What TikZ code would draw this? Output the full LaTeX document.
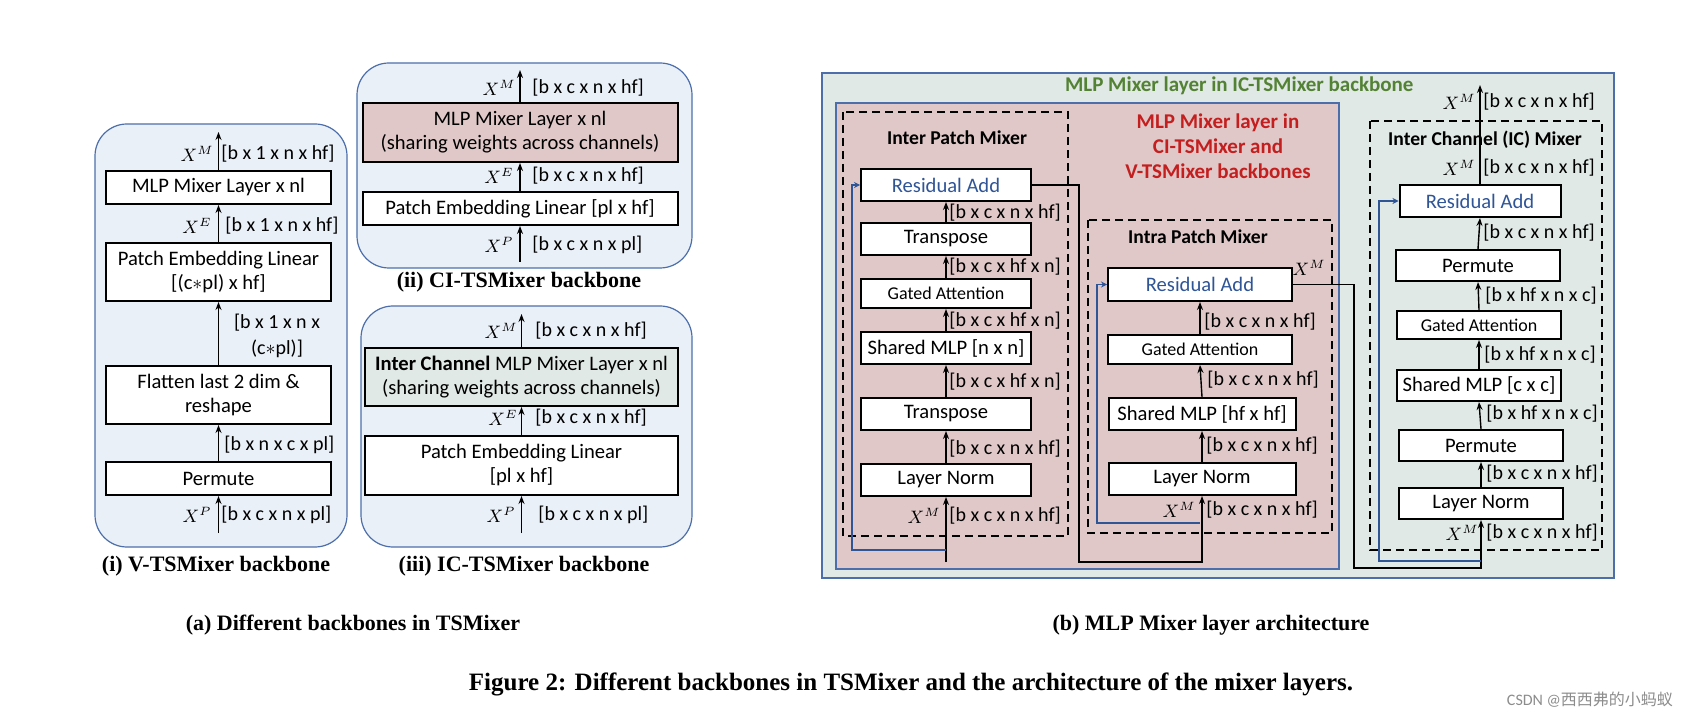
\documentclass[tikz,border=0pt]{standalone}
\usepackage{fontspec}
\setmainfont{Carlito}
\newfontfamily\capfont{Liberation Serif}
\newfontfamily\cjk{Noto Sans CJK SC}
\usetikzlibrary{arrows.meta}
\definecolor{panelblue}{RGB}{234,240,248}
\definecolor{edgeblue}{RGB}{76,110,170}
\definecolor{mixpink}{RGB}{224,200,200}
\definecolor{mixgreen}{RGB}{224,233,229}
\definecolor{resblue}{RGB}{47,85,151}
\definecolor{titlered}{RGB}{196,30,30}
\definecolor{titlegreen}{RGB}{84,130,53}
\tikzset{
  box/.style={draw, line width=1pt, fill=white, inner sep=0pt, align=center, font=\fontsize{10.3}{12}\selectfont},
  sbox/.style={box, font=\fontsize{9}{10.5}\selectfont},
  dim/.style={anchor=west, inner sep=0pt, font=\fontsize{10}{11.5}\selectfont},
  var/.style={anchor=east, inner sep=0pt, font=\fontsize{9}{11}\selectfont},
  flow/.style={-{Stealth[length=4pt,width=3pt]}, line width=0.7pt},
  skip/.style={-{Stealth[length=3pt,width=3pt]}, line width=0.8pt, draw=resblue},
  panel/.style={draw=edgeblue, line width=0.6pt, fill=panelblue, rounded corners=16pt},
  zone/.style={draw, line width=0.9pt, dash pattern=on 4pt off 2.5pt},
  head/.style={font=\bfseries\fontsize{9.8}{11.5}\selectfont},
  subcap/.style={font=\capfont\bfseries\fontsize{11}{13}\selectfont}
}
\begin{document}
\begin{tikzpicture}[x=0.5pt,y=-0.5pt]
\useasboundingbox (0,0) rectangle (1686,721);

%Shape: panels of (a)
\draw[panel] (95,124) rectangle (347,547);
\draw[panel] (357,63) rectangle (692,268);
\draw[panel] (361,306) rectangle (692,547);

%(i) V-TSMixer backbone
\node[box, minimum width=112.5pt, minimum height=16.5pt] (vMix) at (218.5,187.5) {MLP Mixer Layer x nl};
\node[box, minimum width=112.5pt, minimum height=29pt] (vEmb) at (218.5,272) {Patch Embedding Linear\\{}[(c$*$pl) x hf]};
\node[box, minimum width=112.5pt, minimum height=29pt] (vFlat) at (218.5,395) {Flatten last 2 dim \&\\reshape};
\node[box, minimum width=112.5pt, minimum height=16.5pt] (vPerm) at (218.5,478.5) {Permute};
\coordinate (vIn) at (218.5,533);
\coordinate (vOut) at (218.5,132);
\draw[flow] (vIn) -- (vPerm.south);
\draw[flow] (vPerm.north) -- (vFlat.south);
\draw[flow] (vFlat.north) -- (vEmb.south);
\draw[flow] (vEmb.north) -- (vMix.south);
\draw[flow] (vMix.north) -- (vOut);
\node[var] at (214,154) {$X^M$};
\node[dim] at (221,154) {[b x 1 x n x hf]};
\node[var] at (212,226) {$X^E$};
\node[dim] at (225,226) {[b x 1 x n x hf]};
\node[dim, anchor=center, align=center, font=\fontsize{10}{13}\selectfont] at (277,336) {[b x 1 x n x\\(c$*$pl)]};
\node[dim] at (224,445) {[b x n x c x pl]};
\node[var] at (212,515) {$X^P$};
\node[dim] at (221,515) {[b x c x n x pl]};
\node[subcap] at (216,566) {(i) V-TSMixer backbone};

%(ii) CI-TSMixer backbone
\node[box, fill=mixpink, minimum width=157.5pt, minimum height=29.5pt] (ciMix) at (520,132.5) {MLP Mixer Layer x nl\\(sharing weights across channels)};
\node[box, minimum width=157.5pt, minimum height=16.5pt] (ciEmb) at (520,208.5) {Patch Embedding Linear [pl x hf]};
\coordinate (ciIn) at (520,262);
\coordinate (ciOut) at (520,70);
\draw[flow] (ciIn) -- (ciEmb.south);
\draw[flow] (ciEmb.north) -- (ciMix.south);
\draw[flow] (ciMix.north) -- (ciOut);
\node[var] at (516,88) {$X^M$};
\node[dim] at (532,88) {[b x c x n x hf]};
\node[var] at (514,176) {$X^E$};
\node[dim] at (532,176) {[b x c x n x hf]};
\node[var] at (514,245) {$X^P$};
\node[dim] at (532,245) {[b x c x n x pl]};
\node[subcap] at (519,282) {(ii) CI-TSMixer backbone};

%(iii) IC-TSMixer backbone
\node[box, fill=mixgreen, minimum width=156.5pt, minimum height=29pt] (icMix) at (521.5,377) {\textbf{Inter Channel} MLP Mixer Layer x nl\\(sharing weights across channels)};
\node[box, minimum width=156.5pt, minimum height=29.5pt] (icEmb) at (521.5,465.5) {Patch Embedding Linear\\{}[pl x hf]};
\coordinate (icIn) at (521.5,533);
\coordinate (icOut) at (521.5,314);
\draw[flow] (icIn) -- (icEmb.south);
\draw[flow] (icEmb.north) -- (icMix.south);
\draw[flow] (icMix.north) -- (icOut);
\node[var] at (518,331) {$X^M$};
\node[dim] at (535,331) {[b x c x n x hf]};
\node[var] at (518,418) {$X^E$};
\node[dim] at (535,418) {[b x c x n x hf]};
\node[var] at (516,515) {$X^P$};
\node[dim] at (538,515) {[b x c x n x pl]};
\node[subcap] at (524,566) {(iii) IC-TSMixer backbone};

%Shape: backgrounds of (b)
\draw[draw=edgeblue, line width=0.7pt, fill=mixgreen] (822,73) rectangle (1614,578);
\draw[draw=edgeblue, line width=0.7pt, fill=mixpink] (836,103) rectangle (1339,569);
\draw[zone] (843,112) rectangle (1068,536);
\draw[zone] (1088,220) rectangle (1332,533);
\draw[zone] (1370,121) rectangle (1602,550);
\node[head, text=titlegreen, anchor=west, font=\bfseries\fontsize{10.5}{12}\selectfont] at (1058,86) {MLP Mixer layer in IC-TSMixer backbone};
\node[head, text=titlered, align=center, font=\bfseries\fontsize{10.5}{12.5}\selectfont] at (1218,146) {MLP Mixer layer in\\CI-TSMixer and\\V-TSMixer backbones};

%Inter Patch Mixer
\node[head] at (957,138) {Inter Patch Mixer};
\node[box, minimum width=85pt, minimum height=16pt, text=resblue] (ipRes) at (946,185) {Residual Add};
\node[box, minimum width=85pt, minimum height=16pt] (ipTrB) at (946,239) {Transpose};
\node[sbox, minimum width=85pt, minimum height=14.5pt] (ipGate) at (946,293.5) {Gated Attention};
\node[box, minimum width=85pt, minimum height=16pt] (ipMlp) at (946,348) {Shared MLP [n x n]};
\node[box, minimum width=85pt, minimum height=16pt] (ipTrA) at (946,414) {Transpose};
\node[box, minimum width=85pt, minimum height=16pt] (ipNorm) at (946,480) {Layer Norm};
\coordinate (ipIn) at (946,562);
\coordinate (ipTap) at (946,550);
\draw[flow] (ipIn) -- (ipNorm.south);
\draw[flow] (ipNorm.north) -- (ipTrA.south);
\draw[flow] (ipTrA.north) -- (ipMlp.south);
\draw[flow] (ipMlp.north) -- (ipGate.south);
\draw[flow] (ipGate.north) -- (ipTrB.south);
\draw[flow] (ipTrB.north) -- (ipRes.south);
\draw[skip] (ipTap) -- ++(-94,0) |- (ipRes.west);
\node[dim] at (949,213) {[b x c x n x hf]};
\node[dim] at (949,267) {[b x c x hf x n]};
\node[dim] at (949,321) {[b x c x hf x n]};
\node[dim] at (949,382) {[b x c x hf x n]};
\node[dim] at (949,449) {[b x c x n x hf]};
\node[var] at (941,516) {$X^M$};
\node[dim] at (949,516) {[b x c x n x hf]};

%Intra Patch Mixer
\node[head] at (1198,237) {Intra Patch Mixer};
\node[box, minimum width=92pt, minimum height=16.5pt, text=resblue] (paRes) at (1200,284.5) {Residual Add};
\node[sbox, minimum width=92pt, minimum height=14.5pt] (paGate) at (1200,349.5) {Gated Attention};
\node[box, minimum width=93.5pt, minimum height=16pt] (paMlp) at (1202,414) {Shared MLP [hf x hf]};
\node[box, minimum width=93.5pt, minimum height=16pt] (paNorm) at (1202,479) {Layer Norm};
\coordinate (paIn) at (1079,562);
\coordinate (paTap) at (1200,523);
\draw[flow] (ipRes.east) -| (paIn) -| (paNorm.south);
\draw[flow] (paNorm.north) -- (paMlp.south);
\draw[flow] (paMlp.north) -- (paGate.south);
\draw[flow] (paGate.north) -- (paRes.south);
\draw[skip] (paTap) -- ++(-103,0) |- (paRes.west);
\node[dim] at (1204,322) {[b x c x n x hf]};
\node[dim] at (1207,380) {[b x c x n x hf]};
\node[dim] at (1206,446) {[b x c x n x hf]};
\node[var] at (1196,510) {$X^M$};
\node[dim] at (1206,510) {[b x c x n x hf]};
\node[var] at (1326,268) {$X^M$};

%Inter Channel (IC) Mixer
\node[head] at (1485,140) {Inter Channel (IC) Mixer};
\node[box, minimum width=80.5pt, minimum height=16pt, text=resblue] (chRes) at (1480,201) {Residual Add};
\node[box, minimum width=82pt, minimum height=15.5pt] (chPermB) at (1478,265.5) {Permute};
\node[sbox, minimum width=82pt, minimum height=14pt] (chGate) at (1479,325) {Gated Attention};
\node[box, minimum width=82pt, minimum height=15.5pt] (chMlp) at (1479,385.5) {Shared MLP [c x c]};
\node[box, minimum width=82pt, minimum height=15.5pt] (chPermA) at (1481,445.5) {Permute};
\node[box, minimum width=82pt, minimum height=15.5pt] (chNorm) at (1481,503.5) {Layer Norm};
\coordinate (chIn) at (1354,568);
\coordinate (chTap) at (1481,561);
\coordinate (chOut) at (1480,85);
\draw[flow] (paRes.east) -| (chIn) -| (chNorm.south);
\draw[flow] (chNorm.north) -- (chPermA.south);
\draw[flow] (chPermA.north) -- (chMlp.south);
\draw[flow] (chMlp.north) -- (chGate.south);
\draw[flow] (chGate.north) -- (chPermB.south);
\draw[flow] (chPermB.north) -- (chRes.south);
\draw[flow] (chRes.north) -- (chOut);
\draw[skip] (chTap) -- ++(-102,0) |- (chRes.west);
\node[var] at (1476,102) {$X^M$};
\node[dim] at (1483,102) {[b x c x n x hf]};
\node[var] at (1476,168) {$X^M$};
\node[dim] at (1483,168) {[b x c x n x hf]};
\node[dim] at (1483,233) {[b x c x n x hf]};
\node[dim] at (1485,296) {[b x hf x n x c]};
\node[dim] at (1484,355) {[b x hf x n x c]};
\node[dim] at (1486,414) {[b x hf x n x c]};
\node[dim] at (1486,474) {[b x c x n x hf]};
\node[var] at (1479,533) {$X^M$};
\node[dim] at (1486,533) {[b x c x n x hf]};

%Captions
\node[subcap] at (353,625) {(a) Different backbones in TSMixer};
\node[subcap] at (1211,625) {(b) MLP Mixer layer architecture};
\node[subcap, font=\capfont\bfseries\fontsize{12.5}{15}\selectfont] at (911,684) {Figure 2: Different backbones in TSMixer and the architecture of the mixer layers.};
\node[anchor=east, text=black!45, font=\fontsize{8}{10}\selectfont] at (1680,700) {CSDN @{\cjk 西西弗的小蚂蚁}};
\end{tikzpicture}
\end{document}
